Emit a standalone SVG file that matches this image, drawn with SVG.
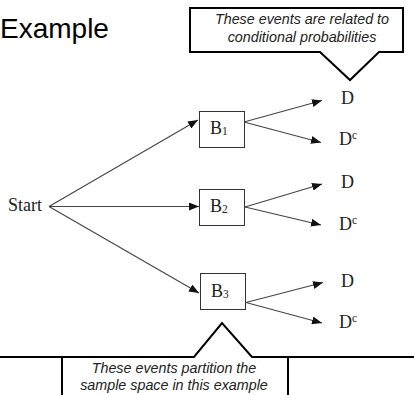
<svg xmlns="http://www.w3.org/2000/svg" width="414" height="395" viewBox="0 0 414 395">
<style>
.serif{font-family:"Liberation Serif","Times New Roman",serif;fill:#222;font-size:18px}
.sub{font-size:11.5px}
.note{font-family:"Liberation Sans",Arial,sans-serif;font-style:italic;font-size:14.3px;fill:#222;text-anchor:middle}
.title{font-family:"Liberation Sans",Arial,sans-serif;font-size:28px;fill:#000}
.box{fill:#fff;stroke:#333;stroke-width:1}
.edge{stroke:#444;stroke-width:1.1;fill:none;marker-end:url(#ah)}
.callout{fill:none;stroke:#000;stroke-width:2;stroke-linejoin:miter}
</style>
<defs>
<marker id="ah" markerUnits="userSpaceOnUse" markerWidth="10" markerHeight="8" viewBox="0 0 10 8" refX="10" refY="4" orient="auto">
<path d="M0,0 L10,4 L0,8 Z" fill="#111"/>
</marker>
</defs>
<text class="title" x="0" y="38">Example</text>
<g id="callout-top">
<path class="callout" d="M190,8 H403 V52 H379 L350,80 L320,52 H190 Z"/>
<text class="note" x="302" y="24">These events are related to</text>
<text class="note" x="302" y="42">conditional probabilities</text>
</g>
<g id="callout-bottom">
<path class="callout" d="M0,357 H194 L222,323 L252,357 H414 M62,357 V395 M288,357 V395"/>
<text class="note" x="174" y="373">These events partition the</text>
<text class="note" x="174" y="390">sample space in this example</text>
</g>
<g id="connectors">
<line class="edge" x1="49" y1="206.5" x2="198" y2="120"/>
<line class="edge" x1="49" y1="206.5" x2="199" y2="206.5"/>
<line class="edge" x1="49" y1="206.5" x2="199" y2="293"/>
<line class="edge" x1="244" y1="122" x2="322" y2="100.5"/>
<line class="edge" x1="244" y1="122" x2="321" y2="142.5"/>
<line class="edge" x1="245" y1="207" x2="322" y2="184"/>
<line class="edge" x1="245" y1="207" x2="321" y2="225"/>
<line class="edge" x1="246" y1="302.5" x2="323" y2="282.5"/>
<line class="edge" x1="246" y1="302.5" x2="322" y2="323"/>
</g>
<g id="start"><text class="serif" x="8" y="211">Start</text></g>
<g id="B1"><rect class="box" x="199.5" y="111.5" width="45" height="36"/><text class="serif" x="210" y="134">B<tspan class="sub" dy="1">1</tspan></text></g>
<g id="B2"><rect class="box" x="199.5" y="189.5" width="45" height="36"/><text class="serif" x="210" y="212">B<tspan class="sub" dy="1">2</tspan></text></g>
<g id="B3"><rect class="box" x="200.5" y="273.5" width="45" height="36"/><text class="serif" x="211" y="297">B<tspan class="sub" dy="1">3</tspan></text></g>
<g id="D1"><text class="serif" x="341" y="104">D</text></g>
<g id="D1c"><text class="serif" x="339" y="145">D<tspan class="sub" dy="-6">c</tspan></text></g>
<g id="D2"><text class="serif" x="341" y="188">D</text></g>
<g id="D2c"><text class="serif" x="339" y="230">D<tspan class="sub" dy="-6">c</tspan></text></g>
<g id="D3"><text class="serif" x="341" y="287">D</text></g>
<g id="D3c"><text class="serif" x="339" y="328">D<tspan class="sub" dy="-6">c</tspan></text></g>
</svg>
